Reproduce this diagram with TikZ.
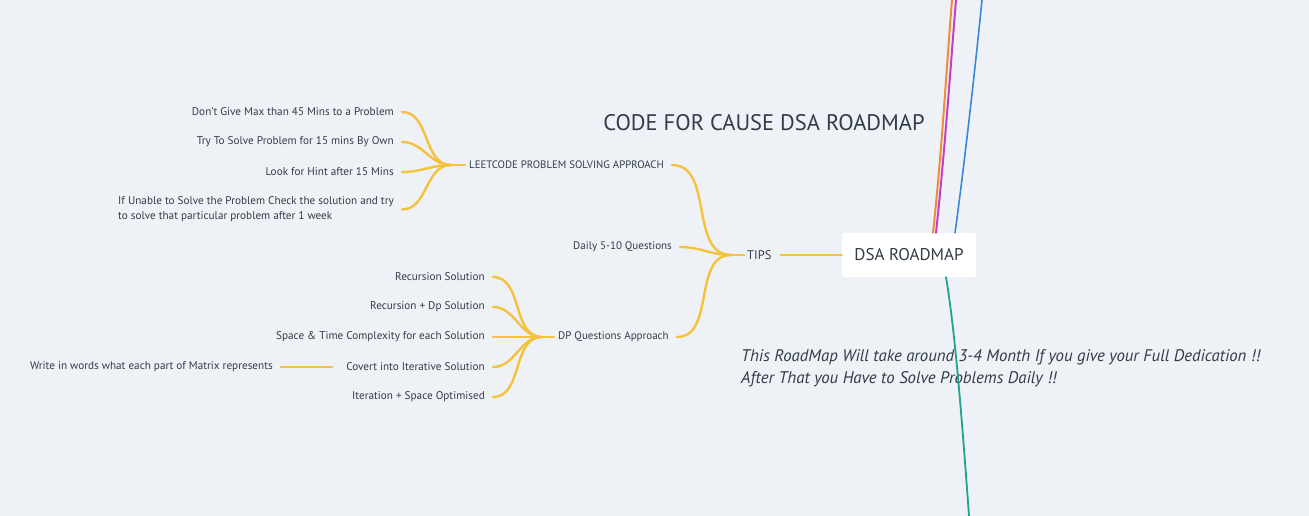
\documentclass[tikz,border=0pt]{standalone}
\usepackage{fontspec}
\setmainfont{PT Sans}
\usepackage{tikz}
\usetikzlibrary{positioning}
\definecolor{sfondo}{HTML}{EEF2F6}
\definecolor{testo}{HTML}{323C48}
\definecolor{giallo}{HTML}{F5C23E}
\definecolor{arancio}{HTML}{F08A3C}
\definecolor{viola}{HTML}{C23FC8}
\definecolor{blu}{HTML}{3A86D8}
\definecolor{verde}{HTML}{1FA38C}

\begin{document}
\begin{tikzpicture}[x=1pt,y=-1pt,text=testo,
	foglia/.style={font=\fontsize{11.2}{15}\selectfont, anchor=east, inner xsep=8, inner ysep=2},
	ramo/.style={font=\fontsize{11}{15}\selectfont, anchor=west, inner xsep=4, inner ysep=2},
	giunto/.style={giallo, line width=2.4pt, line cap=round},
	filo/.style={line width=2pt, line cap=round}]
	\useasboundingbox[fill=sfondo] (0,0) rectangle (1309,516);
	%Titolo
	\node (titolo) at (764,123) {\fontsize{22.5}{26}\selectfont CODE FOR CAUSE DSA ROADMAP};
	%Radice
	\node [fill=white, rounded corners=2pt, minimum width=134, minimum height=44, font=\fontsize{17}{20}\selectfont] (root) at (909,255) {DSA ROADMAP};
	\node [font=\fontsize{12.5}{14}\selectfont, anchor=west, inner xsep=3] (tips) at (744,255) {TIPS};
	\coordinate (jT) at (731,255);
	%Rami
	\node [ramo, font=\fontsize{10.8}{15}\selectfont] (lc) at (465,165) {LEETCODE PROBLEM SOLVING APPROACH};
	\node [ramo] (daily) at (569,247) {Daily 5-10 Questions};
	\node [ramo] (dp) at (554,337) {DP Questions Approach};
	\coordinate (jL) at (451,165);
	\coordinate (jD) at (542,337);
	%Foglie leetcode
	\node [foglia] (l1) at (402,112) {Don't Give Max than 45 Mins to a Problem};
	\node [foglia] (l2) at (402,142) {Try To Solve Problem for 15 mins By Own};
	\node [foglia] (l3) at (402,172) {Look for Hint after 15 Mins};
	\node [foglia, align=left] (l4) at (402,209.5) {If Unable to Solve the Problem Check the solution and try\\to solve that particular problem after 1 week};
	%Foglie DP
	\node [foglia] (d1) at (493,277) {Recursion Solution};
	\node [foglia] (d2) at (493,307) {Recursion + Dp Solution};
	\node [foglia] (d3) at (493,337) {Space \& Time Complexity for each Solution};
	\node [foglia] (d4) at (493,367) {Covert into Iterative Solution};
	\node [foglia] (d5) at (493,397) {Iteration + Space Optimised};
	\node [foglia] (w) at (281,367) {Write in words what each part of Matrix represents};
	%Nota
	\node [anchor=west, align=left, inner sep=0, font=\fontsize{16.8}{22}\itshape] (nota) at (741,368) {This RoadMap Will take around 3-4 Month If you give your Full Dedication !!\\After That you Have to Solve Problems Daily !!};
	%Collegamenti
	\foreach \f in {l1,l2,l3,l4}
		\draw [giunto] (\f.east) to[out=0,in=180] (jL);
	\foreach \f in {d1,d2,d3,d4,d5}
		\draw [giunto] (\f.east) to[out=0,in=180] (jD);
	\draw [giunto] (jL) -- (lc.west);
	\draw [giunto] (jD) -- (dp.west);
	\draw [giunto] (w.east) -- ([xshift=-6]d4.west);
	\foreach \r in {lc,daily,dp}
		\draw [giunto] ([xshift=4]\r.east) to[out=0,in=180] (jT);
	\draw [giunto] (jT) -- (tips.west);
	\draw [giunto] ([xshift=6]tips.east) -- (root.west);
	%Altri rami
	\coordinate (topA) at (952,0);
	\coordinate (topB) at (956,0);
	\coordinate (topC) at (982,0);
	\coordinate (basso) at (969,516);
	\draw [filo, arancio] ([xshift=24]root.north) .. controls (942,150) and (947,60) .. (topA);
	\draw [filo, viola] ([xshift=27]root.north) .. controls (945,150) and (951,60) .. (topB);
	\draw [filo, blu, line width=1.6pt] ([xshift=46]root.north) .. controls (965,160) and (976,60) .. (topC);
	\draw [filo, verde, line width=1.8pt] ([xshift=37]root.south) .. controls (955,330) and (962,420) .. (basso);
\end{tikzpicture}
\end{document}
